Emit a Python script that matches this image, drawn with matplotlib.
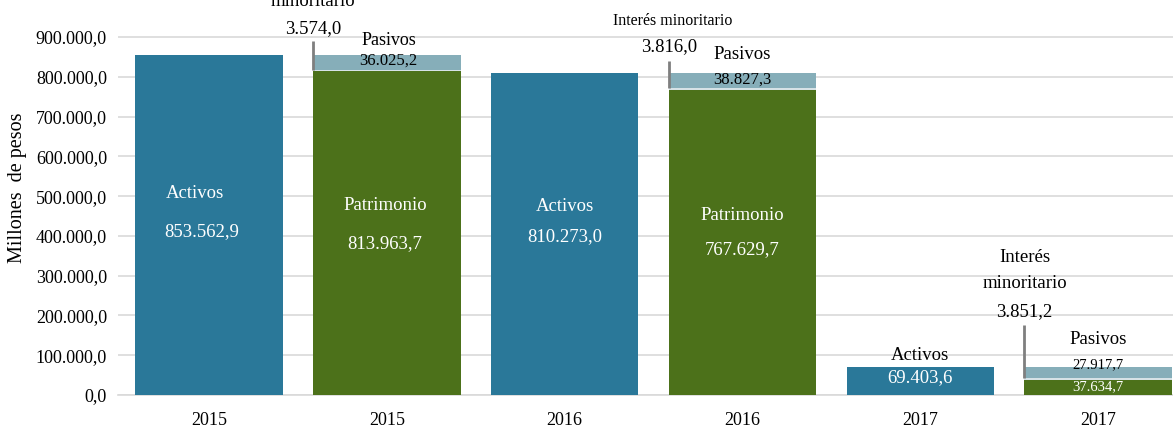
"""Activos, patrimonio y pasivos por año (millones de pesos)."""

import matplotlib

matplotlib.use("Agg")
import matplotlib.pyplot as plt
import numpy as np

plt.rcParams["font.family"] = ["Liberation Serif", "DejaVu Serif"]

# Data ---------------------------------------------------------------------
years = ["2015", "2016", "2017"]
activos = [853562.9, 810273.0, 69403.6]
patrimonio = [813963.7, 767629.7, 37634.7]
interes_minoritario = [3574.0, 3816.0, 3851.2]
pasivos = [36025.2, 38827.3, 27917.7]

y_ticks = [0, 100000, 200000, 300000, 400000, 500000, 600000, 700000, 800000, 900000]

COLOR_ACTIVOS = "#2a7899"
COLOR_PATRIMONIO = "#4c711a"
COLOR_PASIVOS = "#86aeb9"
COLOR_INTERES = "#d6e2e6"
COLOR_GRID = "#d9d9d9"
COLOR_LEADER = "#7f7f7f"

BAR_WIDTH = 0.83


def fmt(value: float) -> str:
    """Format like 853.562,9."""
    text = f"{value:,.1f}"
    return text.replace(",", "X").replace(".", ",").replace("X", ".")


fig = plt.figure(figsize=(11.73, 4.32), dpi=100)
ax = fig.add_axes([118 / 1173, 37 / 432, 1 - 118 / 1173, 395 / 432])

n = len(years)
x_act = np.arange(n) * 2
x_pat = x_act + 1

ax.bar(x_act, activos, width=BAR_WIDTH, color=COLOR_ACTIVOS, zorder=3)
ax.bar(x_pat, patrimonio, width=BAR_WIDTH, color=COLOR_PATRIMONIO, zorder=3)
base_int = np.array(patrimonio)
ax.bar(x_pat, interes_minoritario, bottom=base_int, width=BAR_WIDTH,
       color=COLOR_INTERES, zorder=3)
base_pas = base_int + np.array(interes_minoritario)
ax.bar(x_pat, pasivos, bottom=base_pas, width=BAR_WIDTH, color=COLOR_PASIVOS,
       zorder=3)

ax.set_xlim(-0.511, 5.42)
ax.set_ylim(0, 993000)
ax.set_yticks(y_ticks)
ax.set_yticklabels([fmt(v) for v in y_ticks], fontsize=13)
ax.set_xticks(list(np.ravel(np.column_stack([x_act, x_pat]))))
ax.set_xticklabels([y for y in years for _ in range(2)], fontsize=13)
ax.tick_params(axis="both", length=0, pad=8)
ax.tick_params(axis="x", pad=12)

ax.grid(axis="y", color=COLOR_GRID, linewidth=1.2, zorder=0)
for side in ["top", "right", "left"]:
    ax.spines[side].set_visible(False)
ax.spines["bottom"].set_color(COLOR_GRID)
ax.spines["bottom"].set_linewidth(1.2)

fig.text(18 / 1173, 1 - 188 / 432, "Millones  de pesos", rotation=90,
         ha="center", va="center", fontsize=14.5)

# Labels inside the big bars ----------------------------------------------
big = dict(ha="center", va="center", color="white", fontsize=13.5, zorder=5)
ax.text(x_act[0] - 0.08, 507800, "Activos", **big)
ax.text(x_act[0] - 0.04, 409700, fmt(activos[0]), **big)
ax.text(x_pat[0] - 0.01, 477600, "Patrimonio", **big)
ax.text(x_pat[0] - 0.01, 379600, fmt(patrimonio[0]), **big)
ax.text(x_act[1], 475100, "Activos", **big)
ax.text(x_act[1], 397200, fmt(activos[1]), **big)
ax.text(x_pat[1], 452500, "Patrimonio", **big)
ax.text(x_pat[1], 364500, fmt(patrimonio[1]), **big)

# 2017 labels
ax.text(x_act[2], 100550, "Activos", ha="center", va="center", fontsize=13.5,
        color="black", zorder=5)
ax.text(x_act[2], 42700, fmt(activos[2]), **big)
ax.text(x_pat[2], 138300, "Pasivos", ha="center", va="center", fontsize=13.5,
        zorder=5)
ax.text(x_pat[2], 75400, fmt(pasivos[2]), ha="center", va="center",
        fontsize=10.5, zorder=5)
ax.text(x_pat[2], 20100, fmt(patrimonio[2]), ha="center", va="center",
        fontsize=10.5, color="white", zorder=5)

# Pasivos labels for 2015 and 2016
ax.text(x_pat[0] + 0.01, 892400, "Pasivos", ha="center", va="center",
        fontsize=13, zorder=5)
ax.text(x_pat[0] + 0.01, 839600, fmt(pasivos[0]), ha="center", va="center",
        fontsize=12, zorder=5)
ax.text(x_pat[1], 857200, "Pasivos", ha="center", va="center", fontsize=13.5,
        zorder=5)
ax.text(x_pat[1], 791800, fmt(pasivos[1]), ha="center", va="center",
        fontsize=12, zorder=5)

# Interés minoritario leader lines and labels ------------------------------
leader_tops = [889900, 839600, 176000]
for i in range(n):
    lx = x_pat[i] - BAR_WIDTH / 2
    ax.plot([lx, lx], [patrimonio[i] + interes_minoritario[i], leader_tops[i]],
            color=COLOR_LEADER, linewidth=2, zorder=4, solid_capstyle="butt")

left0 = x_pat[0] - BAR_WIDTH / 2
ax.text(left0, 988000, "minoritario", ha="center", va="center", fontsize=13.5,
        clip_on=False)
ax.text(left0, 920000, fmt(interes_minoritario[0]), ha="center", va="center",
        fontsize=13.5, clip_on=False)

left1 = x_pat[1] - BAR_WIDTH / 2
ax.text(left1 + 0.02, 940200, "Interés minoritario", ha="center", va="center",
        fontsize=11.5, clip_on=False)
ax.text(left1, 874800, fmt(interes_minoritario[1]), ha="center", va="center",
        fontsize=13.5, clip_on=False)

left2 = x_pat[2] - BAR_WIDTH / 2
ax.text(left2, 346900, "Interés", ha="center", va="center", fontsize=13.5)
ax.text(left2, 281500, "minoritario", ha="center", va="center", fontsize=13.5)
ax.text(left2, 208600, fmt(interes_minoritario[2]), ha="center", va="center",
        fontsize=13.5)

fig.savefig("out.png", dpi=100)
